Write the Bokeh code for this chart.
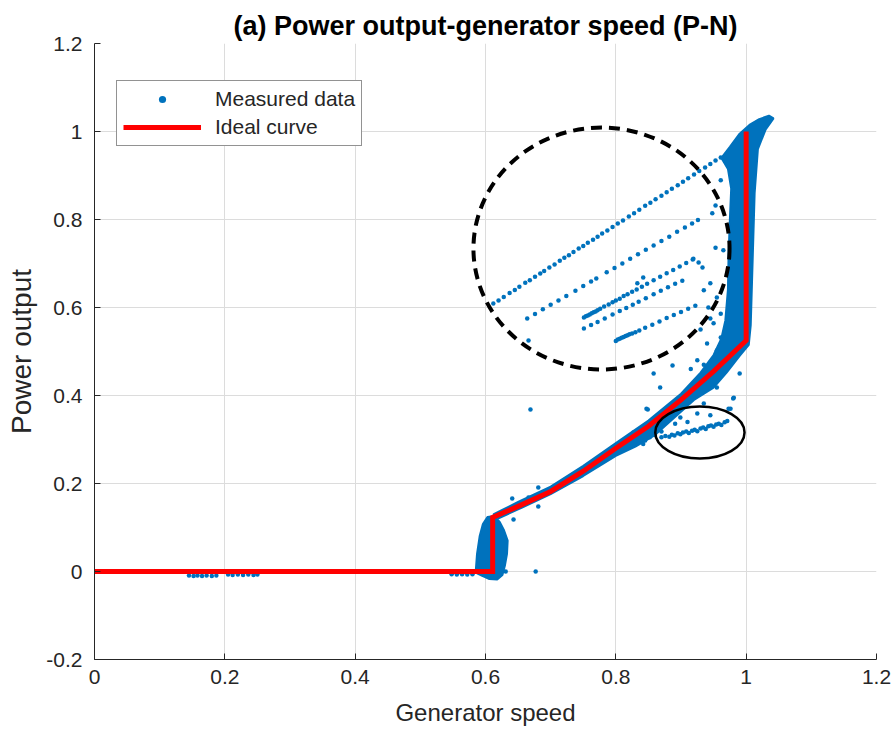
from bokeh.plotting import figure
from bokeh.models import Legend, LegendItem, Range1d, FixedTicker, ColumnDataSource
from bokeh.embed import file_html
from bokeh.resources import INLINE

# ---------------- data ----------------
# ideal P-N curve
ideal_speed = [0.0, 0.611, 0.611, 0.65, 0.70, 0.75, 0.80, 0.85, 0.90, 0.95, 1.0, 1.0]
ideal_power = [0.0, 0.0, 0.123, 0.148, 0.182, 0.228, 0.280, 0.330, 0.390, 0.455, 0.525, 1.0]

# envelope of the densest measured points (curve band + rated-speed band)
dense_speed = [0.612, 0.65, 0.70, 0.75, 0.80, 0.85, 0.90, 0.93, 0.95, 0.962, 0.968, 0.972,
               0.973, 0.975, 0.977, 0.972, 0.962, 0.975, 0.99, 1.005, 1.02, 1.035, 1.042,
               1.03, 1.018, 1.013, 1.011, 1.009, 1.007, 1.004, 0.99, 0.97, 0.95, 0.92,
               0.89, 0.86, 0.83, 0.80, 0.75, 0.70, 0.65, 0.62]
dense_power = [0.130, 0.158, 0.193, 0.240, 0.292, 0.343, 0.404, 0.452, 0.492, 0.530, 0.570, 0.640,
               0.720, 0.800, 0.870, 0.915, 0.940, 0.965, 0.995, 1.015, 1.028, 1.036, 1.030,
               1.005, 0.960, 0.860, 0.760, 0.660, 0.560, 0.515, 0.490, 0.452, 0.418, 0.390,
               0.350, 0.310, 0.284, 0.263, 0.217, 0.176, 0.141, 0.121]

# envelope of the dense cut-in cluster
cutin_speed = [0.585, 0.587, 0.591, 0.596, 0.603, 0.614, 0.622, 0.628, 0.634, 0.633, 0.630,
               0.626, 0.618, 0.606, 0.595, 0.587]
cutin_power = [0.000, 0.040, 0.080, 0.108, 0.124, 0.126, 0.112, 0.095, 0.070, 0.040, 0.015,
               -0.008, -0.018, -0.017, -0.010, -0.004]

# individual measured points
zero_speed = [0.0, 0.02, 0.08, 0.145, 0.152, 0.158, 0.165, 0.172, 0.18, 0.187, 0.205, 0.212,
              0.22, 0.228, 0.236, 0.244, 0.25, 0.40, 0.548, 0.556, 0.564, 0.572, 0.58, 0.631, 0.677]
zero_power = [0.0, 0.0, 0.0, -0.009, -0.010, -0.009, -0.010, -0.009, -0.010, -0.009, -0.007, -0.008,
              -0.007, -0.008, -0.007, -0.008, -0.007, 0.0, -0.006, -0.007, -0.006, -0.007, -0.006, 0.0, 0.0]

line_a_speed = [0.612, 0.620, 0.628, 0.637, 0.645, 0.652, 0.661, 0.668, 0.676, 0.684, 0.690, 0.698,
                0.706, 0.714, 0.721, 0.728, 0.735, 0.743, 0.750, 0.757, 0.765, 0.772, 0.779, 0.787,
                0.795, 0.803, 0.811, 0.820, 0.828, 0.836, 0.845, 0.853, 0.861, 0.870, 0.878, 0.886,
                0.895, 0.903, 0.911, 0.920, 0.928, 0.937, 0.945, 0.953, 0.961]
line_a_power = [0.609, 0.616, 0.624, 0.633, 0.640, 0.647, 0.656, 0.662, 0.670, 0.677, 0.683, 0.691,
                0.698, 0.706, 0.713, 0.719, 0.726, 0.734, 0.740, 0.747, 0.754, 0.761, 0.768, 0.775,
                0.783, 0.791, 0.798, 0.807, 0.814, 0.822, 0.831, 0.838, 0.846, 0.854, 0.862, 0.870,
                0.878, 0.886, 0.894, 0.902, 0.910, 0.918, 0.926, 0.934, 0.941]

line_b_speed = [0.664, 0.676, 0.688, 0.700, 0.712, 0.724, 0.738, 0.750, 0.762, 0.770, 0.786, 0.798,
                0.810, 0.822, 0.834, 0.846, 0.858, 0.870, 0.882, 0.894, 0.906, 0.917, 0.926]
line_b_power = [0.575, 0.585, 0.596, 0.606, 0.616, 0.626, 0.638, 0.649, 0.659, 0.666, 0.680, 0.690,
                0.700, 0.711, 0.721, 0.731, 0.741, 0.751, 0.761, 0.772, 0.782, 0.791, 0.799]

line_c_speed = [0.751, 0.754, 0.757, 0.760, 0.763, 0.766, 0.769, 0.772, 0.776, 0.782, 0.789, 0.795,
                0.800, 0.806, 0.812, 0.818, 0.825, 0.832, 0.840, 0.848, 0.858, 0.868, 0.878, 0.888,
                0.898, 0.908, 0.918, 0.833, 0.842]
line_c_power = [0.577, 0.580, 0.582, 0.584, 0.587, 0.589, 0.591, 0.594, 0.597, 0.602, 0.607, 0.612,
                0.616, 0.620, 0.626, 0.630, 0.636, 0.641, 0.647, 0.654, 0.662, 0.670, 0.678, 0.685,
                0.693, 0.701, 0.709, 0.655, 0.668]

line_d_speed = [0.751, 0.762, 0.772, 0.783, 0.795, 0.806, 0.816, 0.826, 0.835, 0.846, 0.858, 0.869,
                0.880, 0.891, 0.902]
line_d_power = [0.552, 0.560, 0.567, 0.575, 0.584, 0.592, 0.599, 0.606, 0.613, 0.621, 0.630, 0.638,
                0.646, 0.654, 0.661]

line_e_speed = [0.800, 0.803, 0.806, 0.809, 0.812, 0.815, 0.818, 0.821, 0.825, 0.830, 0.836, 0.845,
                0.856, 0.867, 0.878, 0.889, 0.900, 0.911, 0.922]
line_e_power = [0.524, 0.527, 0.529, 0.531, 0.533, 0.535, 0.537, 0.539, 0.541, 0.544, 0.548, 0.554,
                0.561, 0.568, 0.576, 0.583, 0.590, 0.597, 0.604]

near_band_speed = [0.948, 0.953, 0.961, 0.953, 0.927, 0.919, 0.933, 0.945, 0.935, 0.955, 0.942, 0.961,
                   0.950, 0.940, 0.961, 0.955, 0.965, 0.930, 0.925, 0.935, 0.915, 0.945]
near_band_power = [0.814, 0.832, 0.889, 0.736, 0.702, 0.711, 0.691, 0.655, 0.639, 0.623, 0.600, 0.586,
                   0.564, 0.518, 0.532, 0.502, 0.730, 0.550, 0.480, 0.470, 0.460, 0.575]

scatter_speed = [0.641, 0.643, 0.666, 0.681, 0.681, 0.669, 0.666, 0.849, 0.868, 0.827, 0.981, 0.976,
                 0.887, 0.858, 0.847, 0.990, 0.955, 0.980, 0.973, 0.830, 0.838, 0.845, 0.852, 0.860,
                 0.842, 0.820, 0.870]
scatter_power = [0.166, 0.118, 0.168, 0.191, 0.148, 0.368, 0.525, 0.368, 0.418, 0.316, 0.395, 0.370,
                 0.468, 0.450, 0.370, 0.450, 0.418, 0.393, 0.370, 0.295, 0.300, 0.298, 0.305, 0.310,
                 0.290, 0.285, 0.318]

drop_speed = [0.870, 0.876, 0.882, 0.886, 0.890, 0.895, 0.899, 0.903, 0.908, 0.912, 0.917, 0.921,
              0.925, 0.930, 0.934, 0.938, 0.942, 0.946, 0.950, 0.954, 0.958, 0.962, 0.967, 0.971,
              0.891, 0.899, 0.925, 0.935, 0.910, 0.945]
drop_power = [0.305, 0.308, 0.306, 0.311, 0.309, 0.314, 0.312, 0.316, 0.318, 0.315, 0.320, 0.322,
              0.319, 0.325, 0.327, 0.324, 0.330, 0.332, 0.329, 0.334, 0.336, 0.333, 0.339, 0.342,
              0.336, 0.350, 0.359, 0.382, 0.340, 0.355]

# annotation ellipses (centre x, centre y, width, height in data units)
big_ring = [0.778, 0.734, 0.393, 0.550]
small_ring = [0.929, 0.316, 0.137, 0.118]

x_ticks = [0, 0.2, 0.4, 0.6, 0.8, 1.0, 1.2]
x_tick_labels = ["0", "0.2", "0.4", "0.6", "0.8", "1", "1.2"]
y_ticks = [-0.2, 0, 0.2, 0.4, 0.6, 0.8, 1.0, 1.2]
y_tick_labels = ["-0.2", "0", "0.2", "0.4", "0.6", "0.8", "1", "1.2"]

title_text = "(a) Power output-generator speed (P-N)"

# ---------------- figure ----------------
BLUE = "#0072BD"
AX = "#262626"
FONT = "Liberation Sans"

p = figure(width=895, height=733, x_range=Range1d(0, 1.2), y_range=Range1d(-0.2, 1.2),
           output_backend="svg", toolbar_location=None,
           min_border_left=94, min_border_right=19, min_border_top=43, min_border_bottom=74)
p.background_fill_color = "white"
p.border_fill_color = "white"
p.outline_line_color = None

p.title.text = title_text
p.title.align = "center"
p.title.vertical_align = "top"
p.title.standoff = 2
p.title.text_font = FONT
p.title.text_font_size = "27px"
p.title.text_font_style = "bold"
p.title.text_color = "black"

for ax, ticks, labels in ((p.xaxis[0], x_ticks, x_tick_labels), (p.yaxis[0], y_ticks, y_tick_labels)):
    ax.ticker = FixedTicker(ticks=ticks)
    ax.major_label_overrides = dict(zip(ticks, labels))
    ax.axis_line_color = AX
    ax.major_tick_line_color = AX
    ax.major_tick_in = 6
    ax.major_tick_out = 0
    ax.minor_tick_line_color = None
    ax.major_label_text_font = FONT
    ax.major_label_text_font_size = "21px"
    ax.major_label_text_color = AX
    ax.axis_label_text_font = FONT
    ax.axis_label_text_font_style = "normal"
    ax.axis_label_text_color = AX

p.xaxis.axis_label = "Generator speed"
p.yaxis.axis_label = "Power output"
p.xaxis.axis_label_text_font_size = "24px"
p.yaxis.axis_label_text_font_size = "28px"
p.xaxis.major_label_standoff = 10
p.yaxis.major_label_standoff = 12
p.xaxis.axis_label_standoff = 12
p.yaxis.axis_label_standoff = 6

p.xgrid.ticker = FixedTicker(ticks=x_ticks)
p.ygrid.ticker = FixedTicker(ticks=y_ticks)
p.grid.grid_line_color = "#dcdcdc"
p.grid.grid_line_width = 1

# dense regions
p.patch(dense_speed, dense_power, fill_color=BLUE, line_color=BLUE, line_width=2)
p.patch(cutin_speed, cutin_power, fill_color=BLUE, line_color=BLUE, line_width=2)

all_speed = (zero_speed + line_a_speed + line_b_speed + line_c_speed + line_d_speed +
             line_e_speed + near_band_speed + scatter_speed + drop_speed)
all_power = (zero_power + line_a_power + line_b_power + line_c_power + line_d_power +
             line_e_power + near_band_power + scatter_power + drop_power)
src = ColumnDataSource(dict(x=all_speed, y=all_power))
r_meas = p.scatter("x", "y", source=src, size=4.5, fill_color=BLUE, line_color=None)

r_ideal = p.line(ideal_speed, ideal_power, line_color="red", line_width=5, line_join="miter")

p.ellipse(x=[big_ring[0]], y=[big_ring[1]], width=[big_ring[2]], height=[big_ring[3]],
          fill_color=None, line_color="black", line_width=4, line_dash="11 7")
p.ellipse(x=[small_ring[0]], y=[small_ring[1]], width=[small_ring[2]], height=[small_ring[3]],
          fill_color=None, line_color="black", line_width=2.5)

legend = Legend(items=[LegendItem(label="Measured data", renderers=[r_meas]),
                       LegendItem(label="Ideal curve", renderers=[r_ideal])],
                location=(22, 513))
legend.label_text_font = FONT
legend.label_text_font_size = "21px"
legend.label_text_color = AX
legend.glyph_width = 78
legend.glyph_height = 18
legend.label_height = 18
legend.spacing = 4
legend.padding = 6
legend.margin = 0
legend.label_standoff = 14
legend.border_line_color = AX
legend.border_line_width = 1
legend.background_fill_color = "white"
legend.background_fill_alpha = 1.0
p.add_layout(legend)

open("out.html", "w").write(file_html(p, INLINE))
